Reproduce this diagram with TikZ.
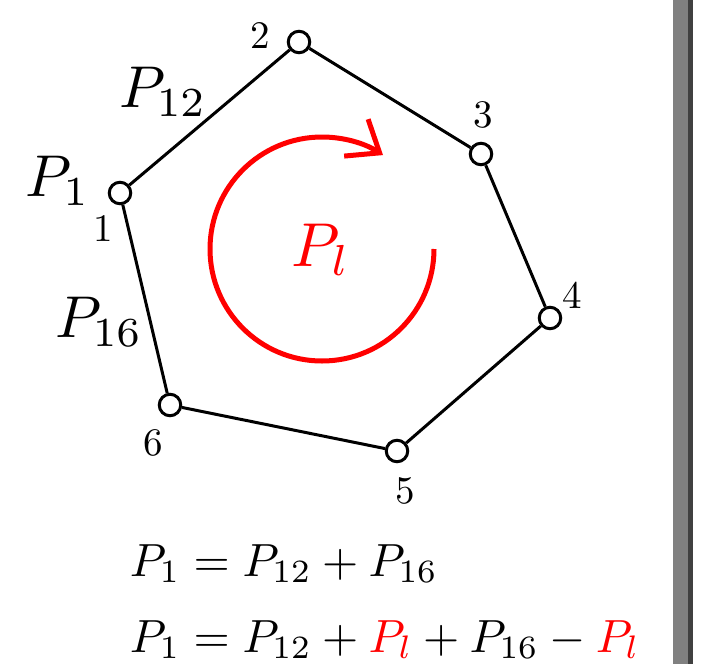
\documentclass[tikz,border=0pt]{standalone}
\usetikzlibrary{arrows.meta}
\begin{document}
\begin{tikzpicture}[x=1pt,y=1pt,
  vtx/.style={circle,draw,line width=3pt,minimum size=21.5pt,inner sep=0pt,fill=white},
  edge/.style={line width=3pt},
  numlab/.style={inner sep=0pt,scale=3.9},
  plab/.style={inner sep=0pt,scale=5.9},
  eqlab/.style={inner sep=0pt,anchor=base west,scale=4.65}]
\useasboundingbox (0,0) rectangle (701,-664);
\fill[white] (0,0) rectangle (701,-664);
% right bar
\fill[black!50] (672.7,0) rectangle (687.7,-664);
\fill[black!75] (687.7,0) rectangle (693,-664);
% vertices
\node[vtx] (n1) at (120,-193) {};
\node[vtx] (n2) at (299,-42) {};
\node[vtx] (n3) at (481,-154) {};
\node[vtx] (n4) at (550,-318) {};
\node[vtx] (n5) at (397,-451) {};
\node[vtx] (n6) at (170,-405) {};
\draw[edge] (n1) -- (n2);
\draw[edge] (n2) -- (n3);
\draw[edge] (n3) -- (n4);
\draw[edge] (n4) -- (n5);
\draw[edge] (n5) -- (n6);
\draw[edge] (n6) -- (n1);
% vertex numbers
\node[numlab] (l1) at (103,-229) {1};
\node[numlab] (l2) at (260,-36) {2};
\node[numlab] (l3) at (483,-115) {3};
\node[numlab] (l4) at (572,-295) {4};
\node[numlab] (l5) at (405,-491) {5};
\node[numlab] (l6) at (153,-443) {6};
% P labels
\node[plab] (p1) at (58,-181) {$P_1$};
\node[plab] (p12) at (163,-92) {$P_{12}$};
\node[plab] (p16) at (99,-322) {$P_{16}$};
% loop
\coordinate (lc) at (322,-249);
\draw[red,line width=5pt,-{Straight Barb[length=28pt,width=44pt]}]
  (434,-249) arc[start angle=0,end angle=-303,radius=112pt];
\node[plab,red,scale=6.2/5.9] (pl) at (321,-250) {$P_l$};
% equations
\node[eqlab] (eq1) at (129,-576) {$P_1 = P_{12} + P_{16}$};
\node[eqlab] (eq2) at (129,-652) {$P_1 = P_{12} + \textcolor{red}{P_l} + P_{16} - \textcolor{red}{P_l}$};
\end{tikzpicture}
\end{document}
